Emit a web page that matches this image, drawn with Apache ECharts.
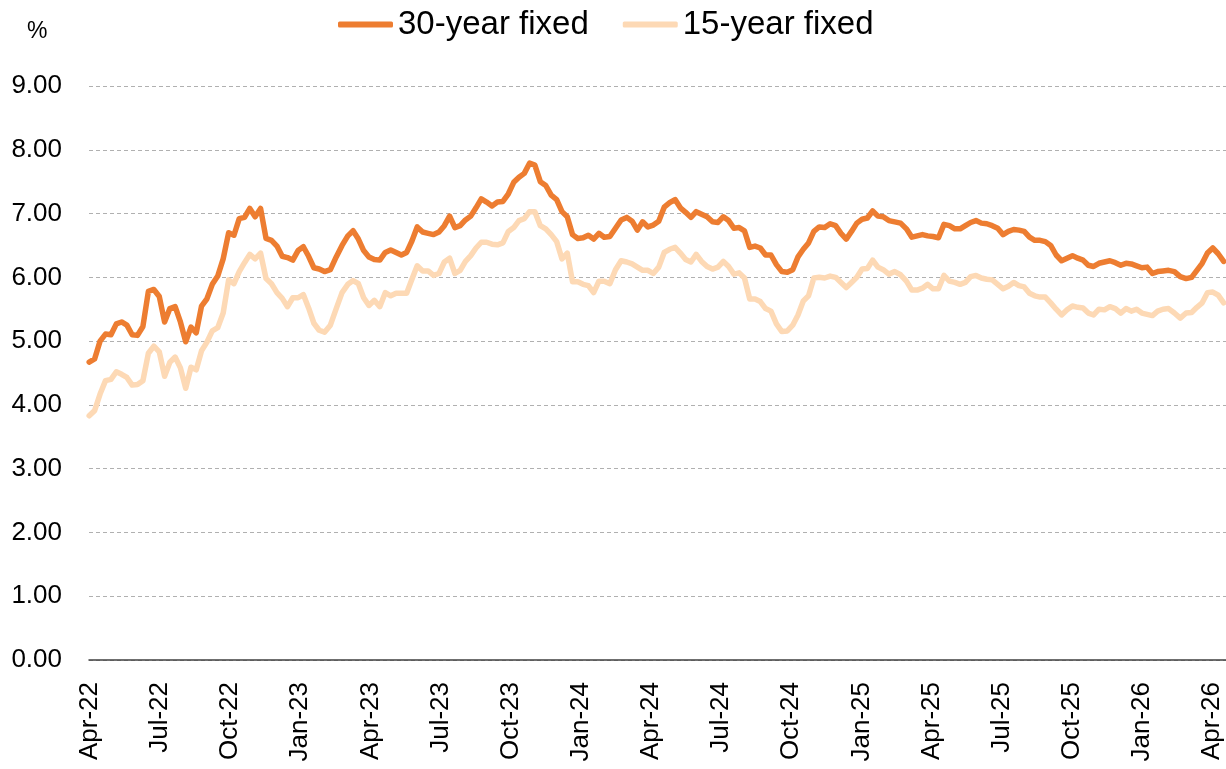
<!DOCTYPE html>
<html>
<head>
<meta charset="utf-8">
<script src="https://cdn.jsdelivr.net/npm/echarts@6/dist/echarts.min.js"></script>
<style>
  html, body { margin: 0; padding: 0; background: #ffffff; }
  #chart { width: 1226px; height: 769px; }
</style>
</head>
<body>
<div id="chart"></div>
<script>
// Weekly observations, first week 2022-03-31
const firstWeek = '2022-03-31';
const seriesNames = ['30-year fixed', '15-year fixed'];
const tickLabels = ['Apr-22','Jul-22','Oct-22','Jan-23','Apr-23','Jul-23','Oct-23','Jan-24','Apr-24','Jul-24','Oct-24','Jan-25','Apr-25','Jul-25','Oct-25','Jan-26','Apr-26'];

const r30_2022 = [4.67,4.72,5.00,5.11,5.10,5.27,5.30,5.25,5.10,5.09,5.23,5.78,5.81,5.70,5.30,5.51,5.54,5.30,4.99,5.22,5.13,5.55,5.66,5.89,6.02,6.29,6.70,6.66,6.92,6.94,7.08,6.95,7.08,6.61,6.58,6.49,6.33,6.31,6.27,6.42];
const r30_2023 = [6.48,6.33,6.15,6.13,6.09,6.12,6.32,6.50,6.65,6.73,6.60,6.42,6.32,6.28,6.27,6.39,6.43,6.39,6.35,6.39,6.57,6.79,6.71,6.69,6.67,6.71,6.81,6.96,6.78,6.81,6.90,6.96,7.09,7.23,7.18,7.12,7.18,7.19,7.31,7.49,7.57,7.63,7.79,7.76,7.50,7.44,7.29,7.22,7.03,6.95,6.67,6.61];
const r30_2024 = [6.62,6.66,6.60,6.69,6.63,6.64,6.77,6.90,6.94,6.88,6.74,6.87,6.79,6.82,6.88,7.10,7.17,7.22,7.09,7.02,6.94,7.03,6.99,6.95,6.87,6.86,6.95,6.89,6.77,6.78,6.73,6.47,6.49,6.46,6.35,6.35,6.20,6.09,6.08,6.12,6.32,6.44,6.54,6.72,6.79,6.78,6.84,6.81,6.69,6.60,6.72,6.85];
const r30_2025 = [6.91,6.93,7.04,6.96,6.95,6.89,6.87,6.85,6.76,6.63,6.65,6.67,6.65,6.64,6.62,6.83,6.81,6.76,6.76,6.81,6.86,6.89,6.85,6.84,6.81,6.77,6.67,6.72,6.75,6.74,6.72,6.63,6.58,6.58,6.56,6.50,6.35,6.26,6.30,6.34,6.30,6.27,6.19,6.17,6.22,6.24,6.26,6.23,6.19,6.22,6.21,6.18,6.15];
const r30_2026 = [6.16,6.06,6.09,6.10,6.11,6.09,6.01,5.98,6.00,6.11,6.22,6.38,6.46,6.37,6.25];

const r15_2022 = [3.83,3.91,4.17,4.38,4.40,4.52,4.48,4.43,4.31,4.32,4.38,4.81,4.92,4.83,4.45,4.67,4.75,4.58,4.26,4.59,4.55,4.85,4.98,5.16,5.21,5.44,5.96,5.90,6.09,6.23,6.36,6.29,6.38,5.98,5.90,5.76,5.67,5.54,5.68,5.68];
const r15_2023 = [5.73,5.52,5.28,5.17,5.14,5.25,5.51,5.76,5.89,5.95,5.90,5.68,5.56,5.64,5.54,5.76,5.71,5.75,5.75,5.75,5.97,6.18,6.10,6.10,6.03,6.06,6.24,6.30,6.06,6.11,6.25,6.34,6.46,6.55,6.55,6.52,6.51,6.54,6.72,6.78,6.89,6.92,7.03,7.03,6.81,6.76,6.67,6.56,6.29,6.38,5.93,5.93];
const r15_2024 = [5.89,5.87,5.76,5.94,5.94,5.90,6.12,6.26,6.24,6.21,6.16,6.11,6.11,6.06,6.16,6.39,6.44,6.47,6.38,6.28,6.24,6.36,6.25,6.17,6.13,6.16,6.25,6.17,6.05,6.07,5.99,5.66,5.66,5.62,5.51,5.47,5.27,5.15,5.16,5.25,5.41,5.63,5.71,5.99,6.00,5.99,6.02,6.00,5.92,5.84,5.92,6.00];
const r15_2025 = [6.13,6.14,6.27,6.16,6.12,6.05,6.09,6.04,5.94,5.80,5.80,5.83,5.89,5.82,5.82,6.03,5.94,5.92,5.89,5.92,6.01,6.03,5.99,5.97,5.96,5.89,5.82,5.86,5.92,5.87,5.85,5.75,5.71,5.69,5.69,5.60,5.50,5.41,5.49,5.55,5.53,5.52,5.44,5.41,5.50,5.49,5.54,5.51,5.44,5.51,5.47,5.50,5.44];
const r15_2026 = [5.42,5.40,5.47,5.50,5.51,5.44,5.36,5.44,5.45,5.53,5.60,5.76,5.77,5.72,5.60];

const rate30 = [].concat(r30_2022, r30_2023, r30_2024, r30_2025, r30_2026);
const rate15 = [].concat(r15_2022, r15_2023, r15_2024, r15_2025, r15_2026);

// Week dates -> position in months since 1 Apr 2022
const start = new Date(firstWeek + 'T00:00:00Z').getTime();
function monthPos(t) {
  const d = new Date(t);
  const y = d.getUTCFullYear(), mo = d.getUTCMonth(), day = d.getUTCDate();
  const dim = new Date(Date.UTC(y, mo + 1, 0)).getUTCDate();
  return (y - 2022) * 12 + (mo - 3) + (day - 1) / dim;
}
const xPos = rate30.map((_, i) => monthPos(start + i * 7 * 86400000));
const tickValues = tickLabels.map((_, i) => i * 3);

const chart = echarts.init(document.getElementById('chart'), null, { renderer: 'canvas' });
const axisFont = 'Liberation Sans, Arial, sans-serif';

chart.setOption({
  animation: false,
  backgroundColor: '#ffffff',
  grid: { left: 89, right: 0, top: 86, bottom: 109, containLabel: false },
  legend: {
    data: seriesNames,
    top: 8,
    left: 338,
    padding: 0,
    itemWidth: 55,
    itemHeight: 6,
    itemGap: 34,
    icon: 'roundRect',
    textStyle: { fontSize: 33, color: '#000000', fontFamily: axisFont }
  },
  graphic: [{
    type: 'text',
    left: 27,
    top: 20,
    style: { text: '%', fontSize: 23, fill: '#000000', fontFamily: axisFont }
  }],
  xAxis: {
    type: 'value',
    min: -0.04,
    max: 48.6,
    axisLine: { show: true, onZero: false, lineStyle: { color: '#404040', width: 1.5 } },
    axisTick: { show: false },
    splitLine: { show: false },
    axisLabel: {
      customValues: tickValues,
      rotate: 90,
      margin: 22,
      fontSize: 26,
      color: '#000000',
      fontFamily: axisFont,
      formatter: function (v) {
        const i = Math.round(v / 3);
        return tickLabels[i] || '';
      }
    }
  },
  yAxis: {
    type: 'value',
    min: 0,
    max: 9,
    interval: 1,
    axisLine: { show: false },
    axisTick: { show: false },
    splitLine: { show: true, lineStyle: { color: '#B0B0B0', width: 1, type: [4, 3] } },
    axisLabel: {
      margin: 27,
      fontSize: 26,
      color: '#000000',
      fontFamily: axisFont,
      formatter: function (v) { return v.toFixed(2); }
    }
  },
  series: [
    {
      name: seriesNames[0],
      type: 'line',
      showSymbol: false,
      data: rate30.map((v, i) => [xPos[i], v]),
      itemStyle: { color: '#ED7D31' },
      lineStyle: { color: '#ED7D31', width: 5.5, join: 'round', cap: 'round' },
      z: 3
    },
    {
      name: seriesNames[1],
      type: 'line',
      showSymbol: false,
      data: rate15.map((v, i) => [xPos[i], v]),
      itemStyle: { color: '#FDD9B5' },
      lineStyle: { color: '#FDD9B5', width: 5.5, join: 'round', cap: 'round' },
      z: 2
    }
  ]
});
</script>
</body>
</html>
